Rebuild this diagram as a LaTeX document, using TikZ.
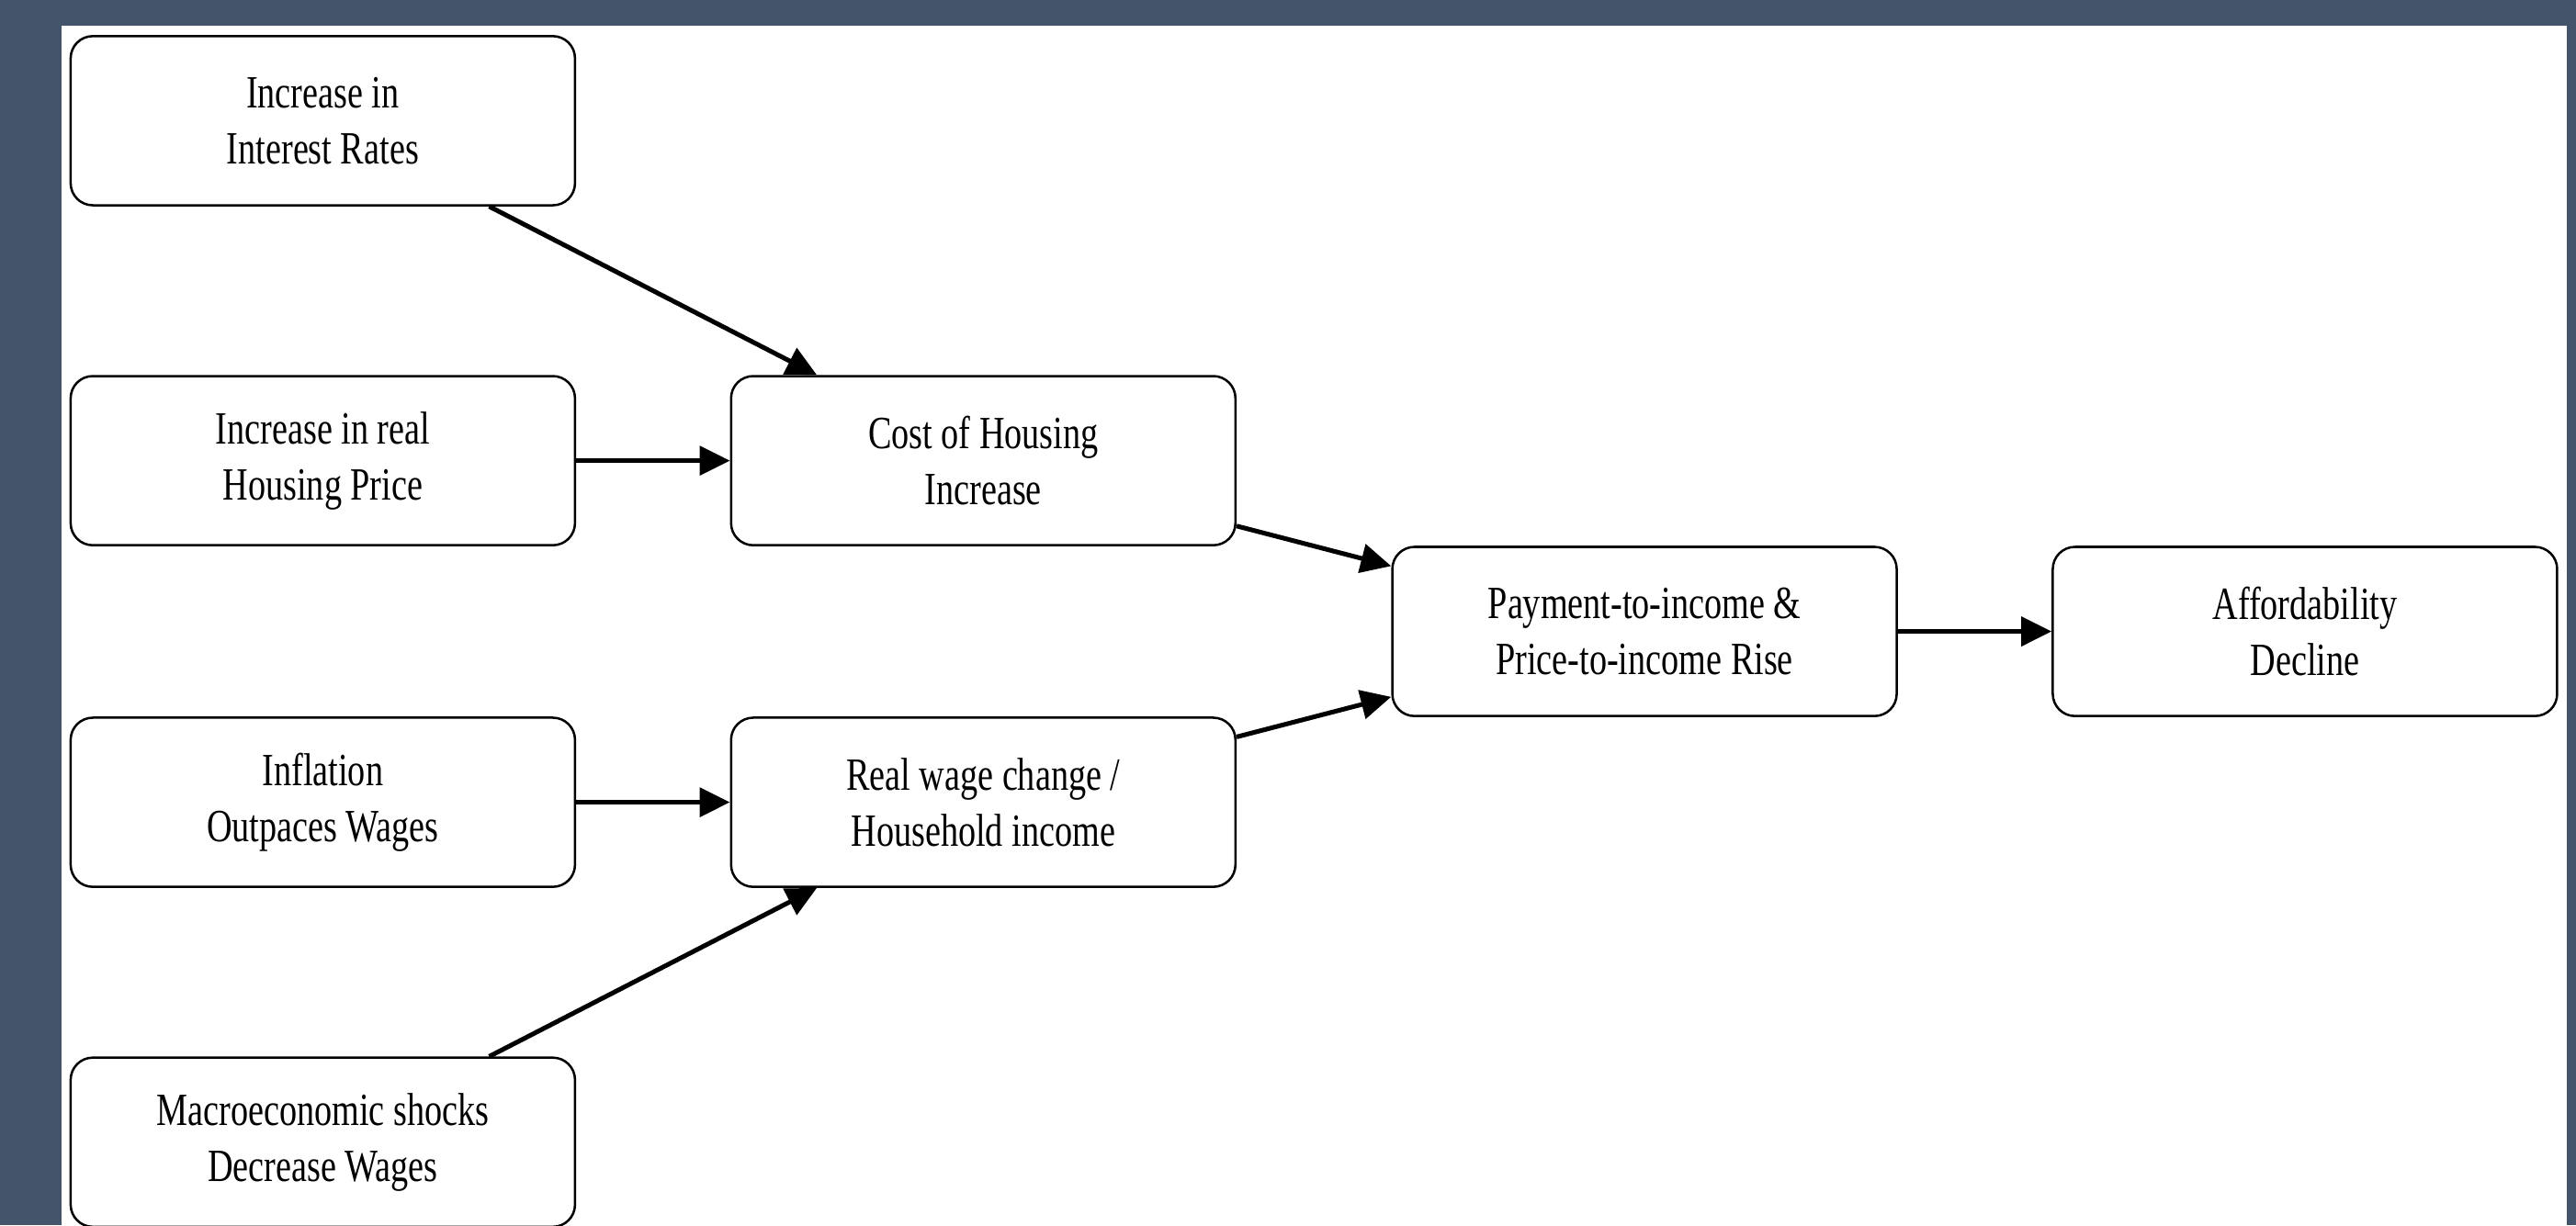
\documentclass[tikz,border=0pt]{standalone}
\usepackage{fontspec}
\setmainfont{Liberation Serif}[FakeStretch=0.76]
\usepackage{tikz}
\usetikzlibrary{arrows.meta}
\definecolor{frame}{HTML}{44546A}

\begin{document}
\begin{tikzpicture}[
        box/.style={draw, rounded corners=0.27cm, minimum width=6.14cm, minimum height=2.06cm,
            align=center, line width=0.8pt, font=\fontsize{16}{19.4}\selectfont},
        arr/.style={-{Triangle[length=10.5pt,width=10pt]}, line width=1.6pt}
    ]
        % frame and page
        \fill[frame] (0,0) rectangle (31.36,-14.92);
        \fill[white] (0.75,-0.31) rectangle (31.25,-14.92);
        \useasboundingbox (0,0) rectangle (31.36,-14.92);

        % column 1
        \node[box] (rates)  at (3.93,-1.47)  {Increase in\\Interest Rates};
        \node[box] (price)  at (3.93,-5.61)  {Increase in real\\Housing Price};
        \node[box] (infl)   at (3.93,-9.77)  {Inflation\\Outpaces Wages};
        \node[box] (shocks) at (3.93,-13.91) {Macroeconomic shocks\\Decrease Wages};

        % column 2
        \node[box] (cost)   at (11.97,-5.61) {Cost of Housing\\Increase};
        \node[box] (wage)   at (11.97,-9.77) {Real wage change /\\Household income};

        % columns 3 and 4
        \node[box] (ratio)  at (20.02,-7.69) {Payment-to-income \&\\Price-to-income Rise};
        \node[box] (afford) at (28.06,-7.69) {Affordability\\Decline};

        \draw[arr] (rates) -- (cost);
        \draw[arr] (price) -- (cost);
        \draw[arr] (infl) -- (wage);
        \draw[arr] (shocks) -- (wage);
        \draw[arr] (cost) -- (ratio);
        \draw[arr] (wage) -- (ratio);
        \draw[arr] (ratio) -- (afford);
    \end{tikzpicture}
\end{document}
